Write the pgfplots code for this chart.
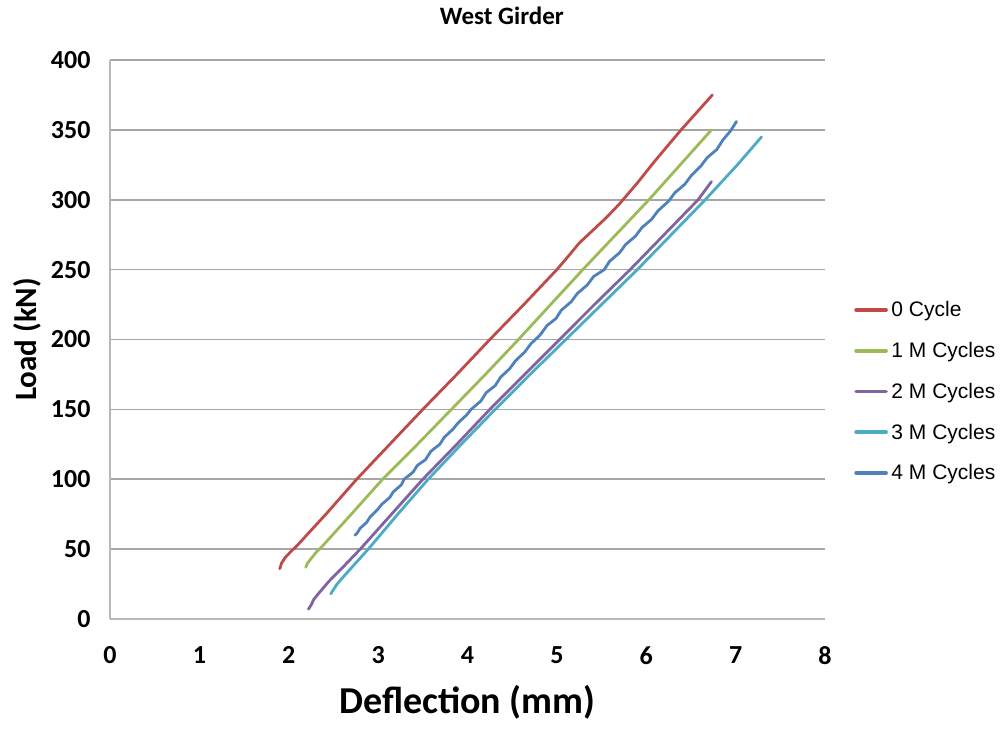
\documentclass[border=0pt]{standalone}
\usepackage{fontspec}
\setmainfont{Carlito}
\newfontfamily\arialf{Liberation Sans}
\usepackage{pgfplots}
\pgfplotsset{compat=1.18}
\definecolor{cRed}{HTML}{BE4B48}
\definecolor{cGreen}{HTML}{9BBB59}
\definecolor{cPurple}{HTML}{8064A2}
\definecolor{cCyan}{HTML}{4BACC6}
\definecolor{cBlue}{HTML}{4F81BD}
\definecolor{gridc}{HTML}{A6A6A6}
\begin{document}
\begin{tikzpicture}
\begin{axis}[
  name=ax,
  at={(0pt,0pt)}, anchor=south west,
  scale only axis,
  width=715pt, height=559pt,
  xmin=0, xmax=8, ymin=0, ymax=400,
  xtick={0,1,2,3,4,5,6,7,8},
  ytick={0,50,100,150,200,250,300,350,400},
  axis x line=bottom, axis y line=left,
  axis line style={-, draw=gridc!80, line width=1.2pt},
  major tick length=0pt,
  ymajorgrids,
  grid style={draw=gridc, line width=1.6pt},
  /pgf/number format/assume math mode=true,
  tick label style={font=\bfseries\fontsize{26}{26}\selectfont},
  xticklabel style={yshift=-24pt},
  yticklabel style={xshift=-16pt},
  title={\bfseries West Girder},
  title style={font=\fontsize{25}{25}\selectfont, at={(axis description cs:0.548,1.068)}, anchor=center},
  xlabel={\bfseries Deflection (mm)},
  xlabel style={font=\fontsize{38}{38}\selectfont, at={(axis description cs:0.5,-0.149)}, anchor=center},
  ylabel={\bfseries Load (kN)},
  ylabel style={font=\fontsize{31}{31}\selectfont, at={(axis description cs:-0.115,0.5)}, anchor=center, rotate=0},
  legend style={at={(axis description cs:1.037,0.407)}, anchor=west, draw=none, fill=none,
    font=\arialf\fontsize{21}{21}\selectfont, row sep=20pt, inner sep=0pt},
  legend cell align=left,
  legend image code/.code={\path (0pt,0pt); \draw[#1, line width=3.6pt, line cap=round] (3pt,0pt) -- (33pt,0pt); \path (35pt,0pt);},
  every axis plot/.append style={line width=2.8pt, line join=round, line cap=round},
]
\addplot[cRed] coordinates {(1.90,36)(1.92,40)(1.96,44)(2.02,48)(2.10,53)(2.43,76)(2.76,100)(3.13,125)(3.50,150)(3.88,175)(4.25,200)(4.63,225)(5.00,250)(5.12,259)(5.25,269)(5.40,278)(5.55,287)(5.70,297)(5.90,312)(6.10,328)(6.39,350)(6.74,375)};
\addlegendentry{0 Cycle}
\addplot[cGreen] coordinates {(2.19,37)(2.21,40)(2.26,44)(2.31,48)(2.36,51)(2.70,75)(3.05,100)(3.44,125)(3.82,150)(4.20,175)(4.57,200)(4.93,225)(5.29,250)(5.66,275)(6.03,300)(6.38,325)(6.73,350)};
\addlegendentry{1 M Cycles}
\addplot[cPurple] coordinates {(2.22,7)(2.25,10)(2.28,14)(2.33,18)(2.45,27)(2.62,38)(2.80,50)(3.15,75)(3.50,100)(3.88,125)(4.25,150)(4.64,175)(5.03,200)(5.42,225)(5.82,250)(6.20,275)(6.58,300)(6.73,313)};
\addlegendentry{2 M Cycles}
\addplot[cCyan] coordinates {(2.47,18)(2.50,21)(2.54,25)(2.65,33)(2.89,50)(3.22,75)(3.56,100)(3.93,125)(4.31,150)(4.70,175)(5.10,200)(5.50,225)(5.90,250)(6.28,275)(6.66,300)(7.02,325)(7.29,345)};
\addlegendentry{3 M Cycles}
\addplot[cBlue] coordinates {(2.74,60)(2.76,61)(2.80,65)(2.87,69)(2.91,73)(2.99,78)(3.04,82)(3.13,87)(3.17,91)(3.26,96)(3.29,100)(3.39,105)(3.44,110)(3.53,114)(3.59,120)(3.69,125)(3.74,130)(3.84,136)(3.89,140)(3.99,146)(4.04,150)(4.15,156)(4.21,162)(4.31,167)(4.37,173)(4.47,179)(4.54,185)(4.64,191)(4.71,197)(4.81,203)(4.89,210)(4.99,215)(5.05,221)(5.16,227)(5.23,233)(5.34,239)(5.41,245)(5.53,250)(5.59,256)(5.70,262)(5.77,268)(5.88,274)(5.95,280)(6.06,286)(6.13,292)(6.25,299)(6.32,305)(6.43,311)(6.50,317)(6.61,324)(6.68,330)(6.79,336)(6.86,343)(6.94,349)(6.98,353)(7.01,356)};
\addlegendentry{4 M Cycles}
\end{axis}
\pgfresetboundingbox
\path[use as bounding box] ([shift={(-110pt,-111pt)}]ax.south west) rectangle ([shift={(181pt,60pt)}]ax.north east);
\end{tikzpicture}
\end{document}
